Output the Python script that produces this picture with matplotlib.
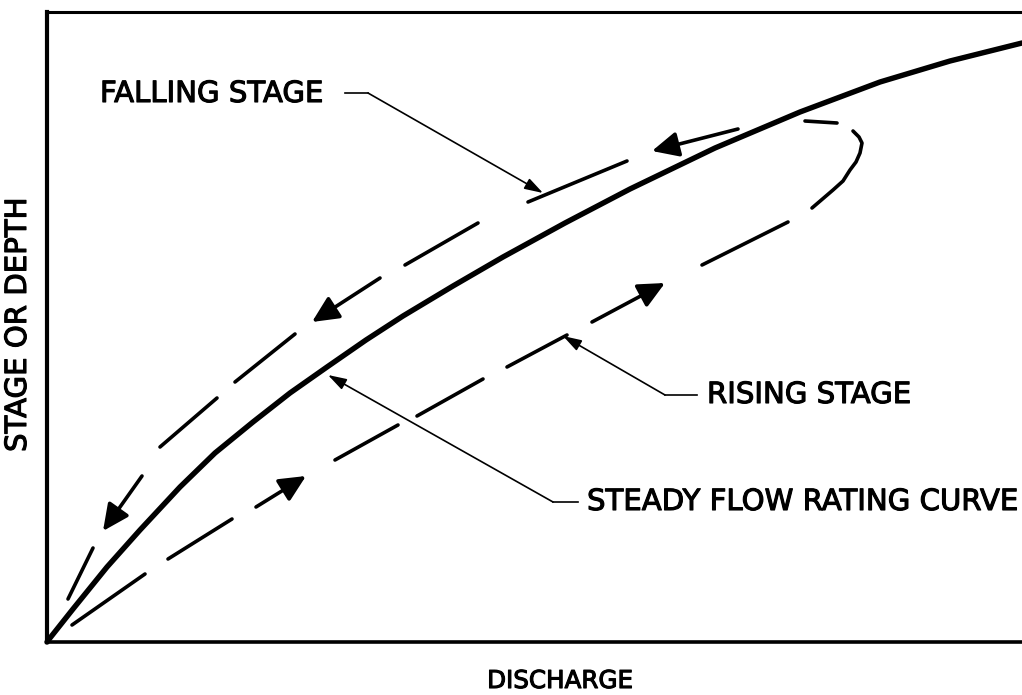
import matplotlib
matplotlib.use("Agg")
import matplotlib.pyplot as plt
import matplotlib.patheffects as pe
import numpy as np

# steady flow rating curve (discharge, stage), arbitrary units
steady_q = [0, 3, 26, 60, 93, 133, 168, 206, 243, 280, 319, 356, 406, 456,
            518, 583, 668, 753, 833, 903, 975]
steady_h = [0, 4, 33, 75, 112, 155, 189, 220, 249, 275, 302, 326, 356, 385,
            419, 453, 494, 530, 560, 581, 599]

# dashed loop, one stroke per dash; last item says if the stroke ends in an arrow
loop_strokes = [
    ([25, 98], [17, 68], False),
    ([121, 185], [83, 123], False),
    ([209, 259], [135, 166], True),
    ([288, 351], [182, 217], False),
    ([370, 436], [226, 263], False),
    ([460, 520], [275, 307], False),
    ([545, 618], [320, 359], True),
    ([655, 741], [377, 420], False),
    ([765, 786, 796, 803, 809, 813, 815, 812, 806], [434, 452, 461, 472, 480, 489, 499, 505, 511], False),
    ([790, 758], [519, 521], False),
    ([691, 605], [513, 491], True),
    ([580, 481], [481, 440], False),
    ([431, 358], [419, 377], False),
    ([333, 265], [364, 320], True),
    ([248, 188], [308, 260], False),
    ([170, 113], [244, 195], False),
    ([95, 56], [166, 111], True),
    ([46, 21], [94, 43], False),
]

# labels: text, text position, leader start, leader knee, arrow tip
labels = ["FALLING STAGE", "RISING STAGE", "STEADY FLOW RATING CURVE"]
label_pos = [(53, 548), (660, 247), (540, 140)]
leader_start = [(298, 549), (650, 247), (531, 140)]
leader_knee = [(321, 549), (618, 247), (506, 140)]
leader_tip = [(496, 449), (516, 306), (281, 267)]

thick = [pe.withStroke(linewidth=0.8, foreground='black')]

fig = plt.figure(figsize=(10.22, 6.95), dpi=100)
ax = fig.add_axes([47/1022, 53/695, 975/1022, 630/695])
ax.set_xlim(0, 975)
ax.set_ylim(0, 630)
ax.set_xticks([])
ax.set_yticks([])
ax.spines['right'].set_visible(False)
ax.spines['left'].set_linewidth(3.0)
ax.spines['bottom'].set_linewidth(2.6)
ax.spines['top'].set_linewidth(2.2)

ax.plot(steady_q, steady_h, color='black', lw=3.9, solid_capstyle='round',
        solid_joinstyle='round', clip_on=False)

for xs, ys, arrow in loop_strokes:
    if arrow:
        ax.annotate('', xy=(xs[-1], ys[-1]), xytext=(xs[0], ys[0]),
                    arrowprops=dict(arrowstyle='-|>,head_length=0.8,head_width=0.38',
                                    color='black', lw=2.6, mutation_scale=20,
                                    shrinkA=0, shrinkB=0, capstyle='round'))
    else:
        ax.plot(xs, ys, color='black', lw=2.6, solid_capstyle='round',
                solid_joinstyle='round')

for i in range(len(labels)):
    ax.text(label_pos[i][0], label_pos[i][1], labels[i], fontsize=21,
            ha='left', va='center', color='black', path_effects=thick)
    ax.plot([leader_start[i][0], leader_knee[i][0]], [leader_start[i][1], leader_knee[i][1]],
            color='black', lw=1.2)
    ax.annotate('', xy=leader_tip[i], xytext=leader_knee[i],
                arrowprops=dict(arrowstyle='-|>,head_length=0.7,head_width=0.22',
                                color='black', lw=1.2, mutation_scale=16,
                                shrinkA=0, shrinkB=0))

fig.text(18/1022, 1 - 325/695, "STAGE OR DEPTH", rotation=90, fontsize=21,
         ha='center', va='center', path_effects=thick)
fig.text(560/1022, 1 - 681/695, "DISCHARGE", fontsize=17.7,
         ha='center', va='center', path_effects=thick)

fig.savefig("out.png", dpi=100, facecolor='white')
